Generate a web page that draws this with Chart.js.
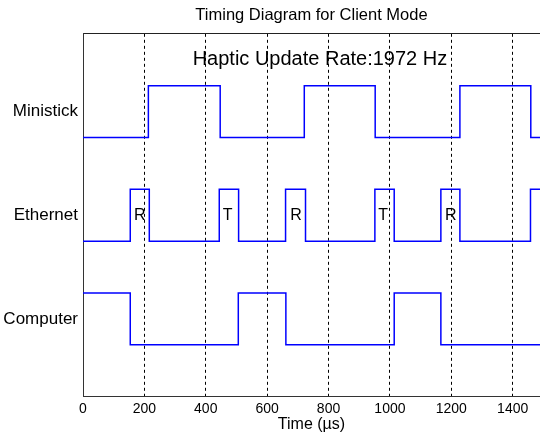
<!DOCTYPE html>
<html>
<head>
<meta charset="utf-8">
<title>Timing Diagram for Client Mode</title>
<script src="https://cdn.jsdelivr.net/npm/chart.js@4.4.0/dist/chart.umd.min.js"></script>
<style>
  html, body { margin: 0; padding: 0; background: #fff; overflow: hidden; }
  canvas { display: block; }
</style>
</head>
<body>
<canvas id="timing" width="540" height="438"></canvas>
<script>
// === Data (time in µs) ===
const xTicks = [0, 200, 400, 600, 800, 1000, 1200, 1400];
const laneNames = ["Computer", "Ethernet", "Ministick"];
const laneBase = [1, 3, 5]; // low level of each lane, high = base + 1

const ministickTimes = [0, 213, 447, 721, 952, 1228, 1459, 1500];
const ministickStates = [0, 1, 0, 1, 0, 1, 0, 0];

const ethernetTimes = [0, 154, 216, 444, 507, 660, 725, 951, 1014, 1166, 1228, 1458, 1500];
const ethernetStates = [0, 1, 0, 1, 0, 1, 0, 1, 0, 1, 0, 1, 1];

const computerTimes = [0, 154, 506, 661, 1014, 1166, 1500];
const computerStates = [1, 0, 1, 0, 1, 0, 0];

// packet labels on the Ethernet lane
const packetLabels = ["R", "T", "R", "T", "R"];
const packetTimes = [185, 471, 694, 978, 1198];

const rateText = "Haptic Update Rate:1972 Hz";
const rateAt = [772, 6.5];

const FONT = "'Liberation Sans', Arial, Helvetica, sans-serif";
const BLUE = "#0000ff";

function toPoints(times, states, base) {
  return times.map((t, i) => ({ x: t, y: base + states[i] }));
}

function lane(label, times, states, base) {
  return {
    label: label,
    data: toPoints(times, states, base),
    borderColor: BLUE,
    borderWidth: 1.5,
    pointRadius: 0,
    stepped: true,
    fill: false,
  };
}

// === Text drawn inside the axes ===
const notesPlugin = {
  id: "notes",
  afterDatasetsDraw(chart) {
    const { ctx, scales } = chart;
    const x = scales.x;
    const y = scales.y;
    ctx.save();
    ctx.fillStyle = "#000";
    ctx.textAlign = "center";
    ctx.textBaseline = "middle";

    ctx.font = "20px " + FONT;
    ctx.fillText(rateText, x.getPixelForValue(rateAt[0]), y.getPixelForValue(rateAt[1]));

    ctx.font = "16px " + FONT;
    packetLabels.forEach((txt, i) => {
      ctx.fillText(txt, x.getPixelForValue(packetTimes[i]), y.getPixelForValue(laneBase[1] + 0.5));
    });
    ctx.restore();
  },
};

new Chart(document.getElementById("timing"), {
  type: "line",
  data: {
    datasets: [
      lane("Ministick", ministickTimes, ministickStates, laneBase[2]),
      lane("Ethernet", ethernetTimes, ethernetStates, laneBase[1]),
      lane("Computer", computerTimes, computerStates, laneBase[0]),
    ],
  },
  options: {
    responsive: false,
    animation: false,
    layout: { padding: { left: 0, right: 0, top: 0, bottom: 5 } },
    plugins: {
      legend: { display: false },
      tooltip: { enabled: false },
      title: {
        display: true,
        text: "Timing Diagram for Client Mode",
        fullSize: false,
        color: "#000",
        font: { family: FONT, size: 16.5, weight: "normal", lineHeight: 1.2 },
        padding: { top: 6, bottom: 8 },
      },
    },
    scales: {
      x: {
        type: "linear",
        min: 0,
        max: 1489,
        afterBuildTicks: (s) => { s.ticks = xTicks.map((v) => ({ value: v })); },
        afterFit: (s) => { s.height = 36.3; },
        ticks: {
          color: "#000",
          font: { family: FONT, size: 14 },
          padding: 4,
          maxRotation: 0,
          autoSkip: false,
          callback: (v) => String(v),
        },
        grid: { color: "#000", lineWidth: 1, drawTicks: false },
        border: { display: true, color: "#333", width: 1, dash: [3, 3] },
        title: {
          display: true,
          text: "Time (µs)",
          color: "#000",
          font: { family: FONT, size: 16, lineHeight: 1 },
          padding: { top: 0, bottom: 0 },
        },
      },
      xTop: {
        type: "linear",
        position: "top",
        min: 0,
        max: 1489,
        ticks: { display: false },
        grid: { display: false, drawTicks: false },
        border: { display: true, color: "#222", width: 1 },
      },
      y: {
        type: "linear",
        min: 0,
        max: 7,
        afterBuildTicks: (s) => { s.ticks = laneBase.map((b) => ({ value: b + 0.5 })); },
        afterFit: (s) => { s.width = 83; },
        ticks: {
          color: "#000",
          font: { family: FONT, size: 17 },
          padding: 5,
          callback: (v) => laneNames[laneBase.indexOf(v - 0.5)],
        },
        grid: { display: false, drawTicks: false },
        border: { display: true, color: "#333", width: 1 },
      },
    },
  },
  plugins: [notesPlugin],
});
</script>
</body>
</html>
